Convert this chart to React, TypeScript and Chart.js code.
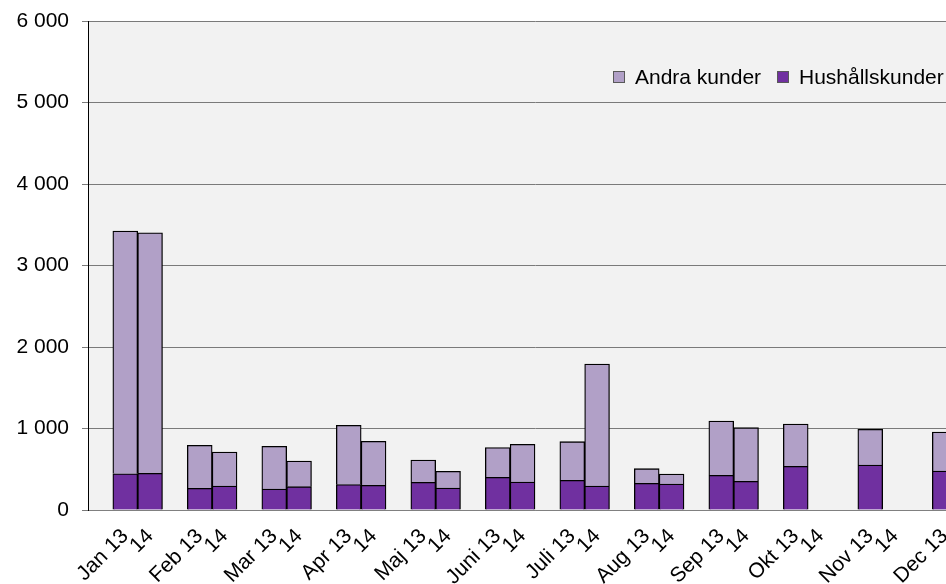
import React, { useEffect, useRef } from "react";
import { Chart, registerables } from "chart.js";

Chart.register(...registerables);

const months = ["Jan", "Feb", "Mar", "Apr", "Maj", "Juni", "Juli", "Aug", "Sep", "Okt", "Nov", "Dec"];
const yearFirst = "13";
const yearSecond = "14";

const hushall13 = [445, 266, 258, 311, 339, 401, 364, 327, 425, 536, 552, 478];
const hushall14 = [450, 294, 286, 303, 270, 343, 294, 319, 352, null, null, null];
const andra13 = [2978, 528, 523, 728, 274, 364, 474, 180, 667, 519, 438, 479];
const andra14 = [2950, 418, 315, 540, 204, 463, 1497, 123, 658, null, null, null];

const yTicks = [0, 1000, 2000, 3000, 4000, 5000, 6000];

const seriesNames = ["Andra kunder", "Hushållskunder"];
const seriesColors = ["#B1A0C7", "#7030A0"];

function buildLabels(): string[] {
  const out: string[] = [];
  months.forEach((m) => {
    out.push("");
    out.push(`${m} ${yearFirst}`);
    out.push(yearSecond);
  });
  return out;
}

function buildSeries(a: (number | null)[], b: (number | null)[]): (number | null)[] {
  const out: (number | null)[] = [];
  months.forEach((_, i) => {
    out.push(null);
    out.push(a[i]);
    out.push(b[i]);
  });
  return out;
}

const fmt = (v: number) => String(v).replace(/\B(?=(\d{3})+(?!\d))/g, " ");

const FONT = "'Liberation Sans', Arial, sans-serif";

const bgPlugin = {
  id: "plotBg",
  beforeDraw(chart: any) {
    const { ctx, chartArea } = chart;
    ctx.save();
    ctx.fillStyle = "#F2F2F2";
    ctx.fillRect(chartArea.left, chartArea.top, chartArea.right - chartArea.left, chartArea.bottom - chartArea.top);
    ctx.restore();
  },
};

const legendPlugin = {
  id: "customLegend",
  afterDraw(chart: any, _args: any, opts: any) {
    const { ctx } = chart;
    ctx.save();
    ctx.font = `21px ${FONT}`;
    ctx.textBaseline = "middle";
    ctx.textAlign = "left";
    opts.items.forEach((it: any) => {
      ctx.fillStyle = it.color;
      ctx.fillRect(it.x + 0.5, opts.y - 5.5, 11, 11);
      ctx.strokeStyle = "#595959";
      ctx.lineWidth = 1;
      ctx.strokeRect(it.x + 0.5, opts.y - 5.5, 11, 11);
      ctx.fillStyle = "#000";
      ctx.fillText(it.text, it.x + 22, opts.y + 1);
    });
    ctx.restore();
  },
};

export default function App() {
  const ref = useRef<HTMLCanvasElement | null>(null);

  useEffect(() => {
    if (!ref.current) return;
    const labels = buildLabels();
    const chart = new Chart(ref.current, {
      type: "bar",
      data: {
        labels,
        datasets: [
          {
            label: seriesNames[1],
            data: buildSeries(hushall13, hushall14),
            backgroundColor: seriesColors[1],
            borderColor: "#000",
            borderWidth: 1.3,
            barPercentage: 1,
            categoryPercentage: 1,
          },
          {
            label: seriesNames[0],
            data: buildSeries(andra13, andra14),
            backgroundColor: seriesColors[0],
            borderColor: "#000",
            borderWidth: 1.3,
            barPercentage: 1,
            categoryPercentage: 1,
          },
        ],
      },
      options: {
        responsive: false,
        animation: false,
        layout: { padding: { top: 21, right: 8, left: 0, bottom: 0 } },
        plugins: {
          legend: { display: false },
          tooltip: { enabled: false },
          customLegend: {
            y: 77,
            items: [
              { text: seriesNames[0], color: seriesColors[0], x: 613 },
              { text: seriesNames[1], color: seriesColors[1], x: 777 },
            ],
          },
        } as any,
        scales: {
          x: {
            stacked: true,
            grid: { display: false, drawTicks: false },
            border: { color: "#808080", width: 1 },
            ticks: {
              autoSkip: false,
              maxRotation: 45,
              minRotation: 45,
              padding: 14,
              color: "#000",
              font: { family: FONT, size: 21 },
            },
            afterFit: (s: any) => {
              s.height = 74;
              s.paddingLeft = 0;
              s.paddingRight = 0;
            },
          },
          y: {
            stacked: true,
            min: 0,
            max: 6000,
            afterBuildTicks: (s: any) => {
              s.ticks = yTicks.map((v) => ({ value: v }));
            },
            grid: { color: "#7A7A7A", tickLength: 6, lineWidth: 1 },
            border: { color: "#000", width: 1 },
            ticks: {
              padding: 13,
              color: "#000",
              font: { family: FONT, size: 21 },
              callback: (v: any) => fmt(Number(v)),
            },
            afterFit: (s: any) => {
              s.width = 88;
              s.paddingTop = 0;
              s.paddingBottom = 0;
            },
          },
        },
      },
      plugins: [bgPlugin, legendPlugin],
    });
    return () => chart.destroy();
  }, []);

  return (
    <div style={{ position: "fixed", left: 0, top: 0, width: 946, height: 584, overflow: "hidden", background: "#fff" }}>
      <canvas ref={ref} width={990} height={584} style={{ display: "block" }} />
    </div>
  );
}
